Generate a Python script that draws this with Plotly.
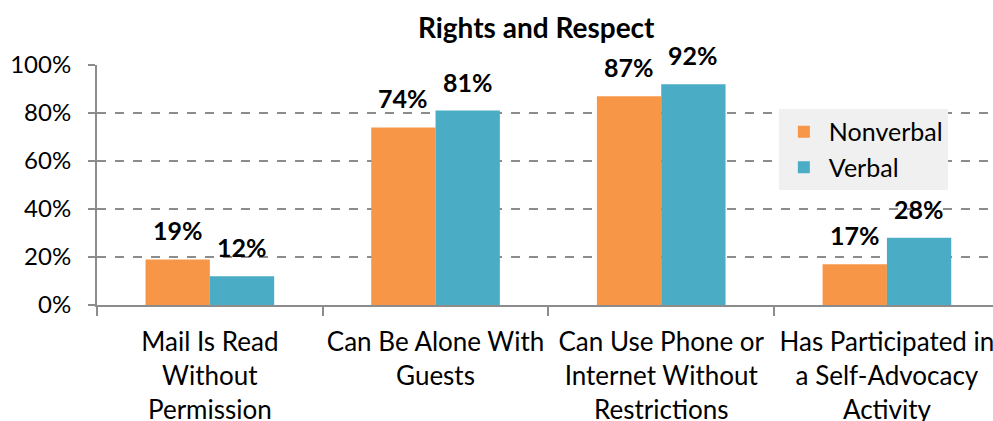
import plotly.graph_objects as go

categories = [
    "Mail Is Read<br>Without<br>Permission",
    "Can Be Alone With<br>Guests",
    "Can Use Phone or<br>Internet Without<br>Restrictions",
    "Has Participated in<br>a Self-Advocacy<br>Activity",
]
nonverbal = [19, 74, 87, 17]
verbal = [12, 81, 92, 28]
y_ticks = [0, 20, 40, 60, 80, 100]

FONT = "Lato, 'Open Sans', sans-serif"
ORANGE = "#F79646"
TEAL = "#4BACC6"
GRID = "#8C8C8C"

W, H = 993, 421
M_L, M_R, M_T, M_B = 97, 0, 65, 116
X_RANGE = [-0.5, 3.47]
BARGAP = 0.43

series = [("Nonverbal", nonverbal, ORANGE), ("Verbal", verbal, TEAL)]

fig = go.Figure()
for name, vals, color in series:
    fig.add_trace(go.Bar(
        x=categories, y=vals, name=name,
        marker=dict(color=color, line=dict(width=0)),
    ))

# value labels above each bar, offset to the centre of its slot in the group
px_per_cat = (W - M_L - M_R) / (X_RANGE[1] - X_RANGE[0])
bar_px = px_per_cat * (1 - BARGAP) / len(series)
for i, (name, vals, color) in enumerate(series):
    shift = (i - (len(series) - 1) / 2) * bar_px
    for cat, v in zip(categories, vals):
        fig.add_annotation(
            x=cat, y=v, xref="x", yref="y", text=f"<b>{v}%</b>",
            showarrow=False, xanchor="center", yanchor="bottom",
            xshift=shift, yshift=12,
            font=dict(family=FONT, size=25, color="#000000"),
        )

fig.update_layout(
    width=W, height=H,
    margin=dict(l=M_L, r=M_R, t=M_T, b=M_B, autoexpand=False),
    paper_bgcolor="white", plot_bgcolor="white",
    barmode="group", bargap=BARGAP, bargroupgap=0,
    font=dict(family=FONT, color="#000000"),
    title=dict(text="<b>Rights and Respect</b>", x=0.54, xanchor="center",
               y=1 - 28 / H, yanchor="middle",
               font=dict(family=FONT, size=28, color="#000000")),
    legend=dict(x=0.761, y=0.817, xanchor="left", yanchor="top",
                bgcolor="#F0F0F0", borderwidth=0,
                font=dict(family=FONT, size=25, color="#000000"),
                itemwidth=40, tracegroupgap=7, entrywidth=150,
                traceorder="normal"),
)

fig.update_xaxes(
    range=X_RANGE, fixedrange=True, automargin=False, tickangle=0,
    showline=True, linecolor=GRID, linewidth=2,
    ticks="outside", tickson="boundaries", ticklen=9, tickcolor=GRID, tickwidth=1.5,
    tickfont=dict(family=FONT, size=26, color="#000000"),
    ticklabelstandoff=13,
    showgrid=False,
)
fig.update_yaxes(
    range=[0, 100], tickvals=y_ticks, ticktext=[f"{v}%" for v in y_ticks],
    automargin=False,
    showline=True, linecolor=GRID, linewidth=2,
    ticks="outside", ticklen=7, tickcolor=GRID, tickwidth=1.5,
    tickfont=dict(family=FONT, size=24, color="#000000"),
    ticklabelstandoff=12,
    showgrid=True, gridcolor=GRID, gridwidth=1.5, griddash="dash",
    zeroline=False,
)

fig.write_html("out.html")
